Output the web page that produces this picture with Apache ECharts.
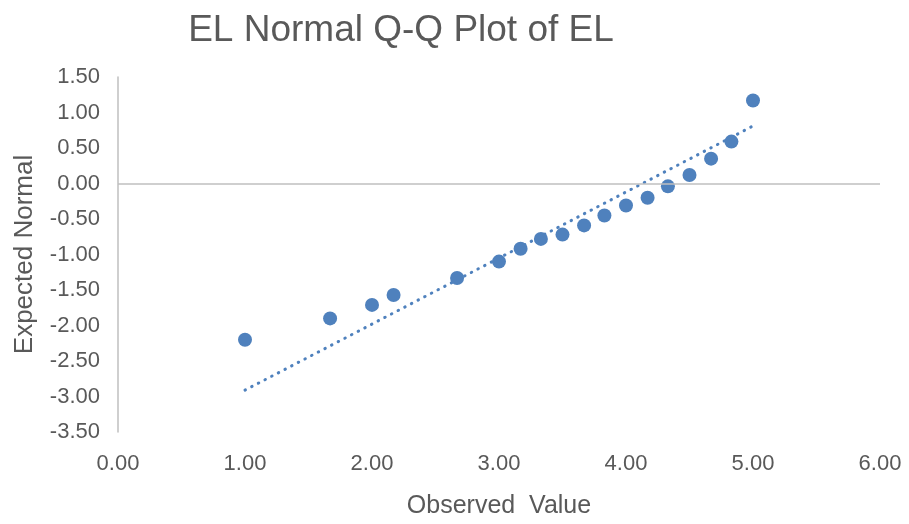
<!DOCTYPE html>
<html>
<head>
<meta charset="utf-8">
<script src="https://cdn.jsdelivr.net/npm/echarts@6/dist/echarts.min.js"></script>
<style>
html,body{margin:0;padding:0;background:#fff;}
#c{width:909px;height:524px;}
</style>
</head>
<body>
<div id="c"></div>
<script>
var observed = [1.00, 1.67, 2.00, 2.17, 2.67, 3.00, 3.17, 3.33, 3.50, 3.67, 3.83, 4.00, 4.17, 4.33, 4.50, 4.67, 4.83, 5.00];
var expected = [-2.20, -1.90, -1.71, -1.57, -1.33, -1.10, -0.92, -0.78, -0.72, -0.59, -0.45, -0.31, -0.20, -0.04, 0.12, 0.35, 0.59, 1.17];
var trendX = [1.00, 5.00];
var trendY = [-2.91, 0.81];

var pts = observed.map(function(x, i){ return [x, expected[i]]; });
var trend = trendX.map(function(x, i){ return [x, trendY[i]]; });

var textColor = '#595959';
var font = 'Liberation Sans, Arial, sans-serif';
var chart = echarts.init(document.getElementById('c'));
chart.setOption({
  animation: false,
  backgroundColor: '#ffffff',
  title: {
    text: 'EL Normal Q-Q Plot of EL',
    left: 396, top: 26, textAlign: 'center', textVerticalAlign: 'middle',
    textStyle: {color: textColor, fontSize: 37, fontWeight: 'normal', fontFamily: font}
  },
  grid: {left: 118, right: 29, top: 77, bottom: 82, containLabel: false},
  xAxis: {
    type: 'value', min: 0, max: 6, interval: 1,
    name: 'Observed  Value', nameLocation: 'middle', nameGap: 62,
    nameTextStyle: {color: textColor, fontSize: 25, fontFamily: font},
    axisLine: {show: false}, axisTick: {show: false}, splitLine: {show: false},
    axisLabel: {color: textColor, fontSize: 22, fontFamily: font, margin: 21,
      formatter: function(v){ return v.toFixed(2); }}
  },
  yAxis: {
    type: 'value', min: -3.5, max: 1.5, interval: 0.5,
    name: 'Expected Normal', nameLocation: 'middle', nameGap: 80,
    nameTextStyle: {color: textColor, fontSize: 26, fontFamily: font},
    axisLine: {show: true, lineStyle: {color: '#BFBFBF', width: 1.5}},
    axisTick: {show: false}, splitLine: {show: false},
    axisLabel: {color: textColor, fontSize: 22, fontFamily: font, margin: 18,
      formatter: function(v){ return v.toFixed(2); }}
  },
  series: [
    {
      type: 'line', data: trend, symbol: 'none', z: 1,
      lineStyle: {color: '#4F81BD', width: 3, type: [0.5, 7], cap: 'round'},
      markLine: {
        silent: true, symbol: 'none', label: {show: false},
        lineStyle: {color: '#BFBFBF', width: 1.5, type: 'solid'},
        data: [{yAxis: 0}]
      }
    },
    {
      type: 'scatter', data: pts, symbol: 'circle', symbolSize: 14, z: 3,
      itemStyle: {color: '#4F81BD', opacity: 1}
    }
  ]
});
</script>
</body>
</html>
